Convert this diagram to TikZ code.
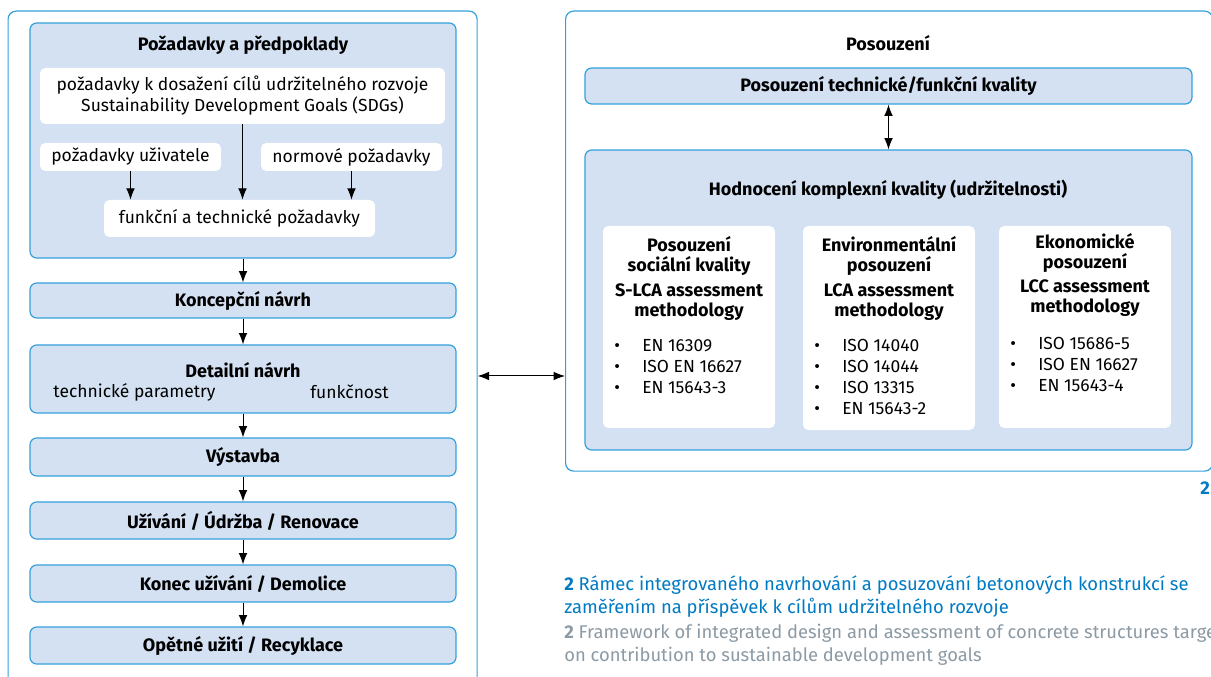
\documentclass[tikz,border=0pt]{standalone}
\usepackage{fontspec}
\setmainfont{Fira Sans}
\usetikzlibrary{positioning, arrows.meta}

\definecolor{frame}{RGB}{52,160,218}
\definecolor{panelfill}{RGB}{211,225,243}
\definecolor{capblue}{RGB}{0,122,194}
\definecolor{capgrey}{RGB}{140,154,164}

\newcommand{\bul}{\makebox[21pt][l]{•}}

\begin{document}
\begin{tikzpicture}
[
    x=0.75pt, y=-0.75pt, >={Latex[length=8.5pt, width=6.5pt]},
    font=\fontsize{13.1}{15.75}\selectfont,
    % sizes are given in pixels of the 1211x677 page
    wh/.style 2 args={minimum width=#1*0.75pt, minimum height=#2*0.75pt}
]

%=================================== Start ===================================
\tikzstyle{outer}  = [draw=frame, line width=0.9pt, rounded corners=6pt, inner sep=0pt]
\tikzstyle{panel}  = [draw=frame, fill=panelfill, line width=0.9pt, rounded corners=5pt,
                      inner sep=0pt, font=\bfseries\fontsize{13.5}{15}\selectfont]
\tikzstyle{wbox}   = [fill=white, rounded corners=4pt, inner sep=0pt, align=center]
\tikzstyle{ttl}    = [inner sep=0pt, align=center, font=\bfseries\fontsize{13.5}{15}\selectfont]
\tikzstyle{lst}    = [inner sep=0pt, align=left, anchor=west]
\tikzstyle{arr}    = [->, line width=0.75pt]
\tikzstyle{captxt} = [inner sep=0pt, anchor=west, font=\fontsize{13.8}{17}\selectfont]

\clip (0,0) rectangle (1211,677);

{
    % Left column: design
    \node[outer, wh={469}{700}, anchor=north west] (design) at (7.5,10.5) {};

    \node[panel, wh={426}{235}] (req) at (243,140.5) {};
    \node[ttl] (req-t) at (243,45) {Požadavky a předpoklady};
    \node[wbox, wh={405}{56}] (sdg) at (242.5,96)
        {požadavky k dosažení cílů udržitelného rozvoje\\Sustainability Development Goals (SDGs)};
    \node[wbox, wh={181}{28}] (user) at (130.5,157) {požadavky uživatele};
    \node[wbox, wh={181}{28}] (norm) at (351.5,157) {normové požadavky};
    \node[wbox, wh={271}{37}] (func) at (239.5,218.5) {funkční a technické požadavky};

    \foreach \src in {user, sdg, norm}
        \draw[arr] (\src.south) -- (\src.south |- func.north);

    % Draw stages
    \foreach \name / \y / \h / \txt in {konc/300.5/35/{Koncepční návrh},
                                         detail/379/68/{},
                                         build/457/38/{Výstavba},
                                         use/520.5/37/{Užívání / Údržba / Renovace},
                                         eol/583.5/37/{Konec užívání / Demolice},
                                         reuse/645.5/37/{Opětné užití / Recyklace}}
        \node[panel, wh={426}{\h}] (\name) at (243,\y) {\txt};

    \node[ttl] (detail-t) at (243,370) {Detailní návrh};
    \node[inner sep=0pt] (detail-a) at (134.5,392) {technické parametry};
    \node[inner sep=0pt] (detail-b) at (349.5,392) {funkčnost};

    \foreach \a / \b in {req/konc, konc/detail, detail/build, build/use, use/eol, eol/reuse}
        \draw[arr] (\a) -- (\b);

    % Right column: assessment
    \node[outer, wh={647}{460}, anchor=north west] (assess) at (565,10.5) {};
    \node[ttl] (assess-t) at (888,43) {Posouzení};
    \node[panel, wh={607}{36}] (tech) at (888.5,86) {Posouzení technické/funkční kvality};
    \node[panel, wh={607}{300}] (qual) at (888.5,300) {};
    \node[ttl] (qual-t) at (888,190) {Hodnocení komplexní kvality (udržitelnosti)};

    \draw[<->, line width=0.75pt] (tech) -- (qual);

    % Draw the three pillars
    \node[wbox, wh={172}{202}] (soc) at (689,327) {};
    \node[wbox, wh={172}{204}] (env) at (889,328) {};
    \node[wbox, wh={172}{202}] (eco) at (1085,327) {};

    \foreach \p / \x / \y / \t / \m in
        {soc/689/256/{Posouzení\\sociální kvality}/{S-LCA assessment\\methodology},
         env/889/256/{Environmentální\\posouzení}/{LCA assessment\\methodology},
         eco/1085/252.5/{Ekonomické\\posouzení}/{LCC assessment\\methodology}}
    {
        \node[ttl] (\p-t) at (\x,\y) {\t};
        \node[ttl] (\p-m) at (\x,\y+46) {\m};
    }

    \node[lst] (soc-l) at (614,366.5) {\bul EN 16309\\\bul ISO EN 16627\\\bul EN 15643-3};
    \node[lst] (env-l) at (814,377) {\bul ISO 14040\\\bul ISO 14044\\\bul ISO 13315\\\bul EN 15643-2};
    \node[lst] (eco-l) at (1010,364) {\bul ISO 15686-5\\\bul ISO EN 16627\\\bul EN 15643-4};

    % Link between design and assessment
    \coordinate (link) at (520,376);
    \draw[<->, line width=0.75pt] (design.east |- link) -- (assess.west |- link);

    % Figure number and caption
    \node[inner sep=0pt, text=capblue, font=\bfseries\fontsize{13.8}{17}\selectfont]
        (fig) at (1205,488) {2};
    \node[captxt, text=capblue] (cap-1) at (564,585)
        {\textbf{2} Rámec integrovaného navrhování a posuzování betonových konstrukcí se};
    \node[captxt, text=capblue] (cap-2) at (564,608)
        {zaměřením na příspěvek k cílům udržitelného rozvoje};
    \node[captxt, text=capgrey] (cap-3) at (564,633)
        {\textbf{2} Framework of integrated design and assessment of concrete structures targe};
    \node[captxt, text=capgrey] (cap-4) at (564,656)
        {on contribution to sustainable development goals};
}
%==================================== END ====================================

\end{tikzpicture}
\end{document}
